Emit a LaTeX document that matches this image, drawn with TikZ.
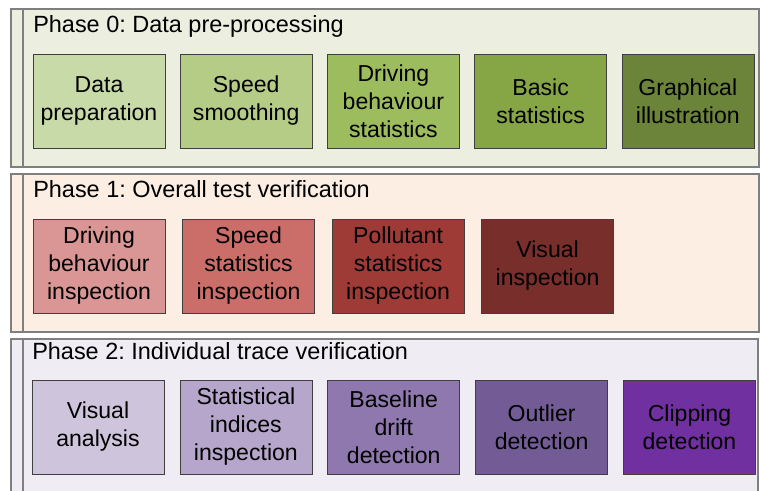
\documentclass[tikz,border=0pt]{standalone}
\usepackage{fontspec}
\setmainfont{Liberation Sans}
\usepackage{xcolor}
\usepackage{tikz}
\usetikzlibrary{positioning}
\frenchspacing

\definecolor{panelline}{HTML}{7F7F7F}
\definecolor{boxline}{HTML}{3F3F3F}
\definecolor{bgzero}{HTML}{ECEEE0}
\definecolor{bgone}{HTML}{FCEEE3}
\definecolor{bgtwo}{HTML}{EFEDF3}
\definecolor{gA}{HTML}{C8DAA8}
\definecolor{gB}{HTML}{B4CC86}
\definecolor{gC}{HTML}{9DBC5E}
\definecolor{gD}{HTML}{86A646}
\definecolor{gE}{HTML}{6B8439}
\definecolor{rA}{HTML}{DA9694}
\definecolor{rB}{HTML}{CB6D68}
\definecolor{rC}{HTML}{9E3B37}
\definecolor{rD}{HTML}{782E2A}
\definecolor{pA}{HTML}{CEC5DD}
\definecolor{pB}{HTML}{B6A6CB}
\definecolor{pC}{HTML}{8F78AE}
\definecolor{pD}{HTML}{735C96}
\definecolor{pE}{HTML}{7030A0}

\begin{document}
\begin{tikzpicture}[
    x=0.75pt, y=-0.75pt,
    node distance=0.5cm and 11.5pt,
    every node/.style={font=\fontsize{17.3}{21}\selectfont},
    box/.style={draw=boxline, fill=#1, minimum width=99pt, minimum height=70.5pt, align=center, inner sep=1pt},
    panel/.style={draw=panelline, line width=0.9pt, fill=#1},
    title/.style={anchor=base west, inner sep=0pt, font=\fontsize{17.6}{20}\selectfont}
]
\clip (0,0) rectangle (760,490);

% phase panels
\draw[panel=bgzero] (11,9) rectangle (759,167);
\draw[panelline, line width=0.9pt] (23,9) -- (23,167);
\draw[panel=bgone] (11,174) rectangle (759,332);
\draw[panelline, line width=0.9pt] (23,174) -- (23,332);
\draw[panel=bgtwo] (11,339) rectangle (758,500);
\draw[panelline, line width=0.9pt] (23,339) -- (23,500);

\node[title] (ph0) at (33,32) {Phase 0: Data pre-processing};
\node[title] (ph1) at (33,197) {Phase 1: Overall test verification};
\node[title] (ph2) at (32,359) {Phase 2: Individual trace verification};

% phase 0
\node[box=gA] (prep) at (99,101) {Data\\preparation};
\node[box=gB, right=11pt of prep] (smooth) {Speed\\smoothing};
\node[box=gC, right=11pt of smooth] (drvstat) {Driving\\behaviour\\statistics};
\node[box=gD, right=11pt of drvstat] (basic) {Basic\\statistics};
\node[box=gE, right=11pt of basic] (graph) {Graphical\\illustration};

% phase 1
\node[box=rA] (drvinsp) at (99,266) {Driving\\behaviour\\inspection};
\node[box=rB, right=12.75pt of drvinsp] (spdinsp) {Speed\\statistics\\inspection};
\node[box=rC, right=12.75pt of spdinsp] (polinsp) {Pollutant\\statistics\\inspection};
\node[box=rD, right=12.75pt of polinsp] (visinsp) {Visual\\inspection};

% phase 2
\node[box=pA] (visana) at (98,427) {Visual\\analysis};
\node[box=pB, right=of visana] (indinsp) {Statistical\\indices\\inspection};
\node[box=pC, right=of indinsp] (drift) {Baseline\\drift\\detection};
\node[box=pD, right=of drift] (outlier) {Outlier\\detection};
\node[box=pE, right=of outlier] (clipdet) {Clipping\\detection};
\end{tikzpicture}
\end{document}
